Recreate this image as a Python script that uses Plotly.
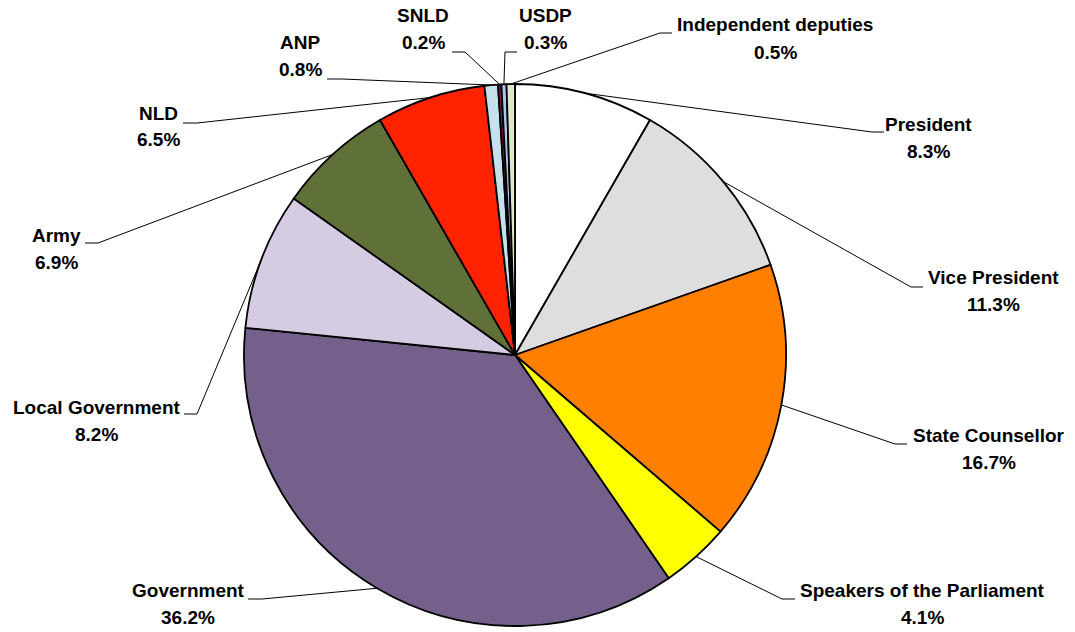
import math
import plotly.graph_objects as go

# ---- data ----
categories = ["President", "Vice President", "State Counsellor", "Speakers of the Parliament",
              "Government", "Local Government", "Army", "NLD", "ANP", "SNLD", "USDP",
              "Independent deputies"]
shares = [8.3, 11.3, 16.7, 4.1, 36.2, 8.2, 6.9, 6.5, 0.8, 0.2, 0.3, 0.5]
slice_colors = ["#FFFFFF", "#DEDEDE", "#FF7F00", "#FFFF00", "#755F8B", "#D6CCE2",
                "#5F7138", "#FF2200", "#C5E2EC", "#7B1B3E", "#A8C6EE", "#DFE6C9"]

# ---- layout (pixels) ----
W, H = 1075, 632
CX, CY, R = 515, 355, 271
# label text centres (x, y of first line)
label_pos = [(928, 125), (993, 277), (989, 435), (922, 590), (188, 590), (96, 407),
             (56, 235), (158, 113), (300, 42), (423, 15), (545, 15), (775, 25)]
# leader elbow point and horizontal segment end x
elbow = [(872, 132, 884), (911, 287, 923), (895, 444, 907), (782, 599, 795),
         (262, 599, 248), (197, 414, 184), (98, 243, 85), (197, 123, 183),
         (342, 79, 327), (465, 52, 452), (505, 52, 517), (660, 33, 672)]
LINE_GAP = 27
FONT = dict(family="Liberation Sans, Arial, sans-serif", size=19, color="black")


def px(x):
    return x / W


def py(y):
    return 1 - y / H


fig = go.Figure(go.Pie(
    labels=categories, values=shares, sort=False, direction="clockwise", rotation=0,
    marker=dict(colors=slice_colors, line=dict(color="black", width=1.8)),
    textinfo="none", hoverinfo="label+percent",
    domain=dict(x=[px(CX - R), px(CX + R)], y=[py(CY + R), py(CY - R)]),
))

total = sum(shares)
cum = 0.0
shapes, annotations = [], []
for name, v, (lx, ly), (ex, ey, hx) in zip(categories, shares, label_pos, elbow):
    mid = (cum + v / 2) / total
    cum += v
    ang = 2 * math.pi * mid
    ax = CX + R * math.sin(ang)
    ay = CY - R * math.cos(ang)
    path = f"M {px(ax)},{py(ay)} L {px(ex)},{py(ey)} L {px(hx)},{py(ey)}"
    shapes.append(dict(type="path", xref="paper", yref="paper", path=path,
                       line=dict(color="black", width=1)))
    annotations.append(dict(x=px(lx), y=py(ly), xref="paper", yref="paper", text=f"<b>{name}</b>",
                            showarrow=False, xanchor="center", yanchor="middle", font=FONT))
    annotations.append(dict(x=px(lx), y=py(ly + LINE_GAP), xref="paper", yref="paper",
                            text=f"<b>{v:.1f}%</b>", showarrow=False, xanchor="center",
                            yanchor="middle", font=FONT))

fig.update_layout(width=W, height=H, margin=dict(l=0, r=0, t=0, b=0), showlegend=False,
                  paper_bgcolor="white", plot_bgcolor="white",
                  shapes=shapes, annotations=annotations)
fig.write_html("out.html", config={"displayModeBar": False},
               post_script="document.body.style.margin='0px';document.body.style.overflow='hidden';")
